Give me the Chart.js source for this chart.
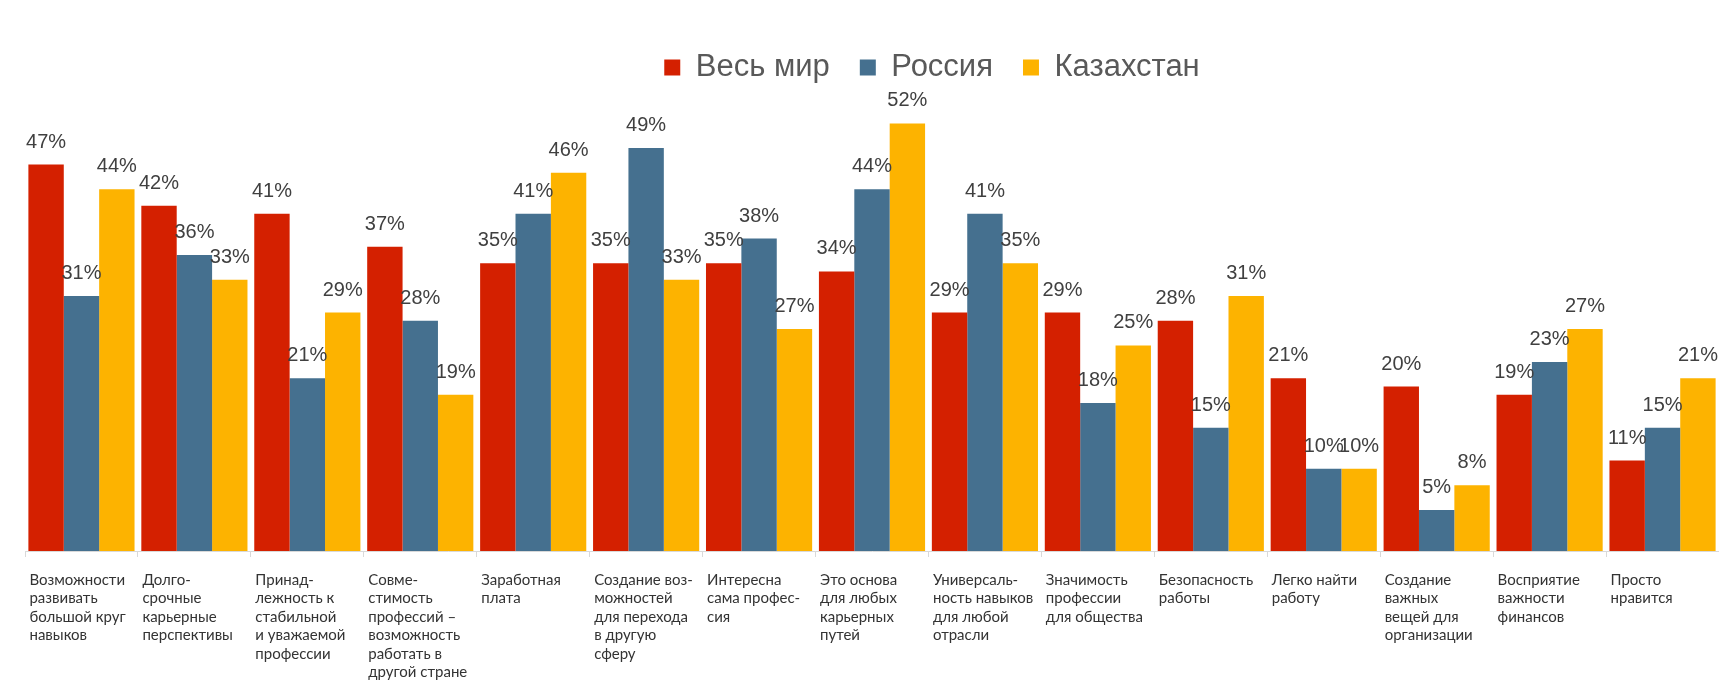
<!DOCTYPE html>
<html>
<head>
<meta charset="utf-8">
<script src="https://cdn.jsdelivr.net/npm/chart.js@4"></script>
<style>
  html, body { margin: 0; padding: 0; background: #fff; }
  #wrap { width: 1719px; height: 680px; }
</style>
</head>
<body>
<div id="wrap"><canvas id="chart"></canvas></div>
<script>
// categories (multi-line labels as drawn under the axis)
var categories = [
    ['Возможности', 'развивать', 'большой круг', 'навыков'],
    ['Долго-', 'срочные', 'карьерные', 'перспективы'],
    ['Принад-', 'лежность к', 'стабильной', 'и уважаемой', 'профессии'],
    ['Совме-', 'стимость', 'профессий –', 'возможность', 'работать в', 'другой стране'],
    ['Заработная', 'плата'],
    ['Создание воз-', 'можностей', 'для перехода', 'в другую', 'сферу'],
    ['Интересна', 'сама профес-', 'сия'],
    ['Это основа', 'для любых', 'карьерных', 'путей'],
    ['Универсаль-', 'ность навыков', 'для любой', 'отрасли'],
    ['Значимость', 'профессии', 'для общества'],
    ['Безопасность', 'работы'],
    ['Легко найти', 'работу'],
    ['Создание', 'важных', 'вещей для', 'организации'],
    ['Восприятие', 'важности', 'финансов'],
    ['Просто', 'нравится']
];

var seriesNames = ['Весь мир', 'Россия', 'Казахстан'];

var world      = [47, 42, 41, 37, 35, 35, 35, 34, 29, 29, 28, 21, 20, 19, 11];
var russia     = [31, 36, 21, 28, 41, 49, 38, 44, 41, 18, 15, 10, 5, 23, 15];
var kazakhstan = [44, 33, 29, 19, 46, 33, 27, 52, 35, 25, 31, 10, 8, 27, 21];

var colors = ['#D42000', '#45708F', '#FDB300'];

// value labels above each bar
var valueLabels = {
    id: 'valueLabels',
    afterDatasetsDraw: function(chart) {
        var ctx = chart.ctx;
        ctx.save();
        ctx.font = '20px "Liberation Sans", Arial, sans-serif';
        ctx.fillStyle = '#404040';
        ctx.textAlign = 'center';
        ctx.textBaseline = 'alphabetic';
        chart.data.datasets.forEach(function(ds, i) {
            var meta = chart.getDatasetMeta(i);
            meta.data.forEach(function(bar, j) {
                ctx.fillText(ds.data[j] + '%', bar.x, bar.y - 17);
            });
        });
        ctx.restore();
    }
};

// nudge the legend to the right, like in the original
var legendShift = {
    id: 'legendShift',
    afterLayout: function(chart) {
        if (chart.legend) {
            chart.legend.left += 60;
            chart.legend.right += 60;
        }
    }
};

var ctx = document.getElementById('chart');
var myBarChart = new Chart(ctx, {
    type: 'bar',
    data: {
        labels: categories,
        datasets: [
            { label: seriesNames[0], data: world,      backgroundColor: colors[0] },
            { label: seriesNames[1], data: russia,     backgroundColor: colors[1] },
            { label: seriesNames[2], data: kazakhstan, backgroundColor: colors[2] }
        ]
    },
    options: {
        responsive: true,
        maintainAspectRatio: false,
        animation: false,
        datasets: {
            bar: { categoryPercentage: 0.94, barPercentage: 1.0 }
        },
        layout: {
            padding: { top: 22, left: 25, right: 0, bottom: 0 }
        },
        plugins: {
            legend: {
                position: 'top',
                labels: {
                    boxWidth: 16,
                    boxHeight: 16,
                    padding: 30,
                    color: '#595959',
                    font: { family: '"Liberation Sans", Arial, sans-serif', size: 31 }
                }
            },
            tooltip: { enabled: false }
        },
        scales: {
            x: {
                offset: true,
                grid: {
                    display: true,
                    drawOnChartArea: false,
                    drawTicks: true,
                    tickLength: 6,
                    color: '#d9d9d9'
                },
                border: { display: true, color: '#d9d9d9' },
                ticks: {
                    autoSkip: false,
                    maxRotation: 0,
                    minRotation: 0,
                    align: 'start',
                    labelOffset: -52,
                    padding: 14,
                    color: '#333333',
                    font: { family: 'Lato, "Open Sans", sans-serif', size: 15, lineHeight: '18.4px' }
                },
                afterFit: function(scale) {
                    scale.paddingLeft = 0;
                    scale.paddingRight = 0;
                    scale.height = 129;
                }
            },
            y: {
                display: false,
                min: 0,
                max: 55.7
            }
        }
    },
    plugins: [valueLabels, legendShift]
});
</script>
</body>
</html>
